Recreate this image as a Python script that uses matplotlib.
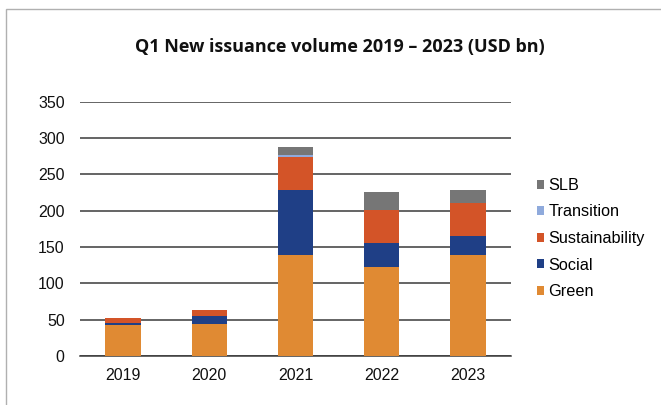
import matplotlib.pyplot as plt
import numpy as np
from matplotlib.patches import Rectangle

years = ["2019", "2020", "2021", "2022", "2023"]
green = [42, 44, 139, 122, 139]
social = [3, 11, 89, 34, 26]
sustainability = [7, 8, 46, 45, 45]
transition = [0, 0, 2, 0, 0]
slb = [0, 0, 12, 25, 19]

series = [
    ("Green", green, "#E08A33"),
    ("Social", social, "#1F3F86"),
    ("Sustainability", sustainability, "#D35428"),
    ("Transition", transition, "#8FAADC"),
    ("SLB", slb, "#767676"),
]

plt.rcParams["font.family"] = ["Liberation Sans", "DejaVu Sans"]

fig = plt.figure(figsize=(6.61, 4.05), dpi=100)
ax = fig.add_axes([80 / 661, 49 / 405, 431 / 661, 254.3 / 405])

x = np.arange(len(years))
bottom = np.zeros(len(years))
handles = []
for name, vals, color in series:
    vals = np.array(vals, dtype=float)
    h = ax.bar(x, vals, width=0.41, bottom=bottom, color=color, label=name, zorder=3)
    bottom += vals
    handles.append(h)

ax.set_xlim(-0.5, len(years) - 0.5)
ax.set_ylim(0, 350)
ax.set_yticks(range(0, 351, 50))
ax.set_xticks(x)
ax.set_xticklabels(years)
ax.yaxis.grid(True, color="#3a3a3a", linewidth=1.1, zorder=0)
ax.tick_params(axis="both", length=0, labelsize=11.5, colors="#111111")
ax.tick_params(axis="y", pad=11)
ax.tick_params(axis="x", pad=9)
for side in ["top", "right", "left"]:
    ax.spines[side].set_visible(False)
ax.spines["bottom"].set_color("#3a3a3a")
ax.spines["bottom"].set_linewidth(1.1)

fig.text(340 / 661, 1 - 47 / 405, "Q1 New issuance volume 2019 \u2013 2023 (USD bn)",
         ha="center", va="center", fontsize=13, fontweight="bold",
         family=["Open Sans", "DejaVu Sans"], color="#111111")

leg = fig.legend(handles[::-1], [s[0] for s in series][::-1],
                 loc="center left", bbox_to_anchor=(537 / 661, 1 - 238.5 / 405),
                 frameon=False, fontsize=11.7, handlelength=0.45, handleheight=0.45,
                 handletextpad=0.25, labelspacing=0.71, borderpad=0, borderaxespad=0)

# chart frame, partly cropped at right and bottom
fig.patches.append(Rectangle((6 / 661, -0.05), 1.0, 1 - 9 / 405 + 0.05,
                             transform=fig.transFigure, fill=False,
                             edgecolor="#b0b0b0", linewidth=1.0))

fig.savefig("out.png", dpi=100)
